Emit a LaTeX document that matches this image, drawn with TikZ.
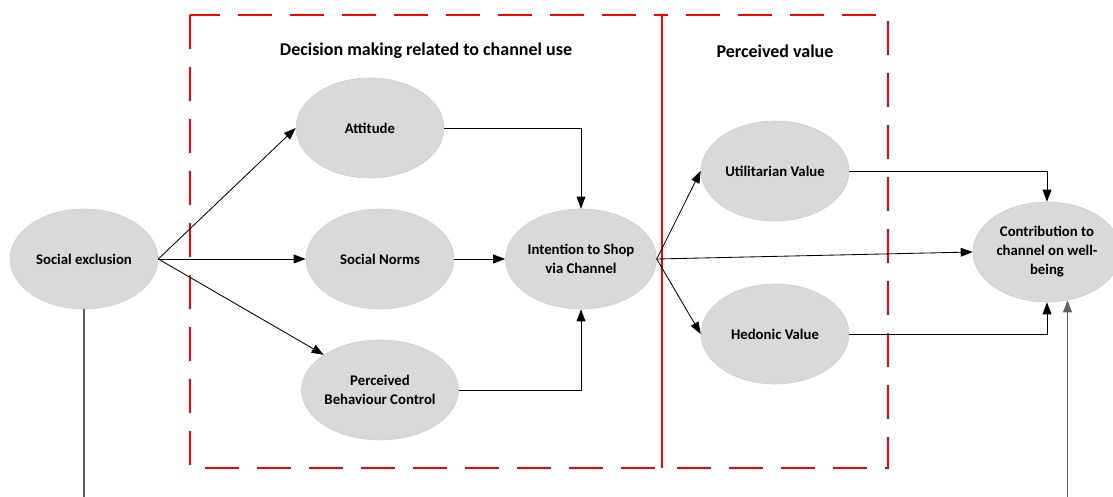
\documentclass[tikz,border=0pt]{standalone}
\usepackage{fontspec}
\setmainfont{Carlito}
\usepackage{tikz}
\usetikzlibrary{arrows.meta,shapes.geometric}

\definecolor{ovalgray}{RGB}{217,217,217}
\definecolor{ovaledge}{RGB}{205,205,205}
\definecolor{linkgray}{RGB}{95,95,95}

\tikzset{
  oval/.style={ellipse, fill=ovalgray, draw=ovaledge, minimum width=3.7cm, minimum height=2.5cm,
    inner sep=0pt, align=center, font=\fontsize{10.5}{13.5}\selectfont\bfseries},
  link/.style={-{Triangle[length=0.3cm,width=0.22cm]}, black, line width=0.6pt},
  greylink/.style={-{Triangle[length=0.3cm,width=0.22cm]}, linkgray, line width=0.9pt},
  redbox/.style={red, line width=1.5pt, dash pattern=on 0.85cm off 0.45cm},
  boxtitle/.style={font=\fontsize{12.8}{15}\selectfont\bfseries}
}

\begin{document}
\begin{tikzpicture}[x=0.025cm,y=-0.025cm]
  \useasboundingbox (0,0) rectangle (1113,497);

  % groups
  \draw[redbox] (190,15) rectangle (662,468);
  \draw[redbox] (662,15) rectangle (888,468);
  \draw[red, line width=1.5pt] (662,15) -- (662,468);
  \node[boxtitle] (dectitle) at (426,51) {Decision making related to channel use};
  \node[boxtitle] (valtitle) at (775,51) {Perceived value};

  % constructs
  \node[oval] (soc) at (84,259) {Social exclusion};
  \node[oval] (att) at (370,128) {Attitude};
  \node[oval] (norm) at (380,259) {Social Norms};
  \node[oval] (pbc) at (380,390) {Perceived\\Behaviour Control};
  \node[oval] (intent) at (581,259) {Intention to Shop\\via Channel};
  \node[oval] (util) at (775,171) {Utilitarian Value};
  \node[oval] (hed) at (775,334) {Hedonic Value};
  \node[oval] (contrib) at (1047,252) {Contribution to\\channel on well-\\being};

  % paths
  \draw[link] (soc.east) -- (att.west);
  \draw[link] (soc.east) -- (norm.west);
  \draw[link] (soc.east) -- (pbc.148);
  \draw[link] (att.east) -| (intent.north);
  \draw[link] (norm.east) -- (intent.west);
  \draw[link] (pbc.east) -| (intent.south);
  \draw[link] (intent.east) -- (util.west);
  \draw[link] (intent.east) -- (hed.west);
  \draw[link] (intent.east) -- (contrib.west);
  \draw[link] (util.east) -| (contrib.north);
  \draw[link] (hed.east) -| (contrib.south);
  \coordinate (low) at (84,530);
  \draw[greylink] (soc.south) -- (low) -| (contrib.-67);
\end{tikzpicture}
\end{document}
